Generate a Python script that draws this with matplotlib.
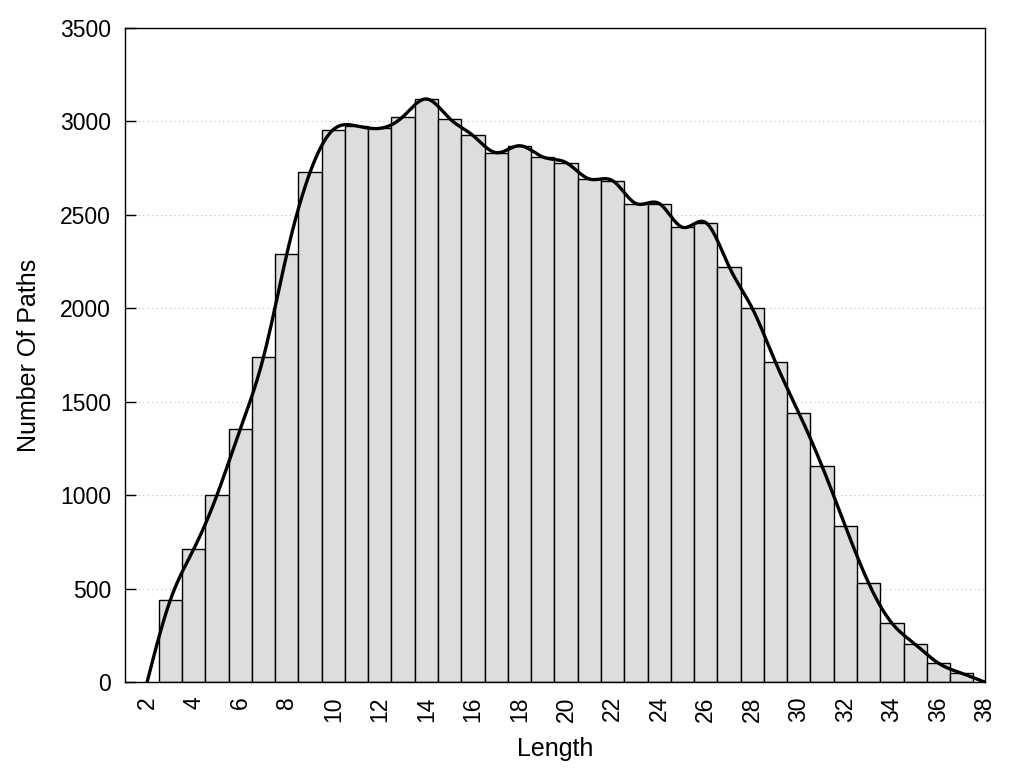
import matplotlib
matplotlib.use('Agg')
import matplotlib.pyplot as plt
import numpy as np

plt.rcParams['font.family'] = ['Liberation Sans', 'DejaVu Sans']

# histogram of path lengths
lengths = [3, 4, 5, 6, 7, 8, 9, 10, 11, 12, 13, 14, 15, 16, 17, 18, 19, 20,
           21, 22, 23, 24, 25, 26, 27, 28, 29, 30, 31, 32, 33, 34, 35, 36, 37]
counts = [440, 711, 1000, 1353, 1738, 2289, 2727, 2956, 2976, 2963, 3026, 3120,
          3015, 2925, 2833, 2870, 2810, 2780, 2692, 2683, 2561, 2561, 2434, 2459,
          2224, 2000, 1711, 1441, 1155, 834, 530, 316, 203, 102, 48]
# curve end points (zero at both ends)
curve_x = [2] + lengths + [38]
curve_y = [0] + counts + [0]

xticks = list(range(2, 39, 2))
yticks = list(range(0, 3501, 500))


def natural_spline(x, y, xs):
    # plain natural cubic spline, no scipy here
    x = np.asarray(x, float)
    y = np.asarray(y, float)
    n = len(x)
    h = np.diff(x)
    A = np.zeros((n, n))
    b = np.zeros(n)
    A[0, 0] = 1
    A[-1, -1] = 1
    for i in range(1, n - 1):
        A[i, i - 1] = h[i - 1]
        A[i, i] = 2 * (h[i - 1] + h[i])
        A[i, i + 1] = h[i]
        b[i] = 3 * ((y[i + 1] - y[i]) / h[i] - (y[i] - y[i - 1]) / h[i - 1])
    c = np.linalg.solve(A, b)
    idx = np.clip(np.searchsorted(x, xs) - 1, 0, n - 2)
    dx = xs - x[idx]
    hi = h[idx]
    bb = (y[idx + 1] - y[idx]) / hi - hi * (2 * c[idx] + c[idx + 1]) / 3
    d = (c[idx + 1] - c[idx]) / (3 * hi)
    return y[idx] + bb * dx + c[idx] * dx ** 2 + d * dx ** 3


fig = plt.figure(figsize=(10.24, 7.68), dpi=100)
ax = fig.add_axes([0.122, 0.1116, 0.84, 0.852])

ax.bar(lengths, counts, width=1.0, color='#dddddd', edgecolor='black',
       linewidth=1.0, zorder=2)

xs = np.linspace(2, 38, 800)
ax.plot(xs, natural_spline(curve_x, curve_y, xs), color='black', lw=2.4,
        zorder=3)

ax.set_xlim(1.05, 38)
ax.set_ylim(0, 3500)
ax.set_xticks(xticks)
ax.set_xticklabels([str(t) for t in xticks], rotation=90)
ax.set_yticks(yticks)
ax.yaxis.grid(True, color='#bbbbbb', linestyle=(0, (1, 3)), linewidth=0.8)
ax.set_axisbelow(True)

ax.tick_params(axis='y', direction='in', length=8, width=1, labelsize=16.5, pad=10)
ax.tick_params(axis='x', length=0, labelsize=16.5, pad=10)
for s in ax.spines.values():
    s.set_linewidth(1.0)
    s.set_zorder(4)

ax.set_xlabel('Length', fontsize=18, labelpad=11)
ax.set_ylabel('Number Of Paths', fontsize=18, labelpad=14)

fig.savefig('out.png', dpi=100)
